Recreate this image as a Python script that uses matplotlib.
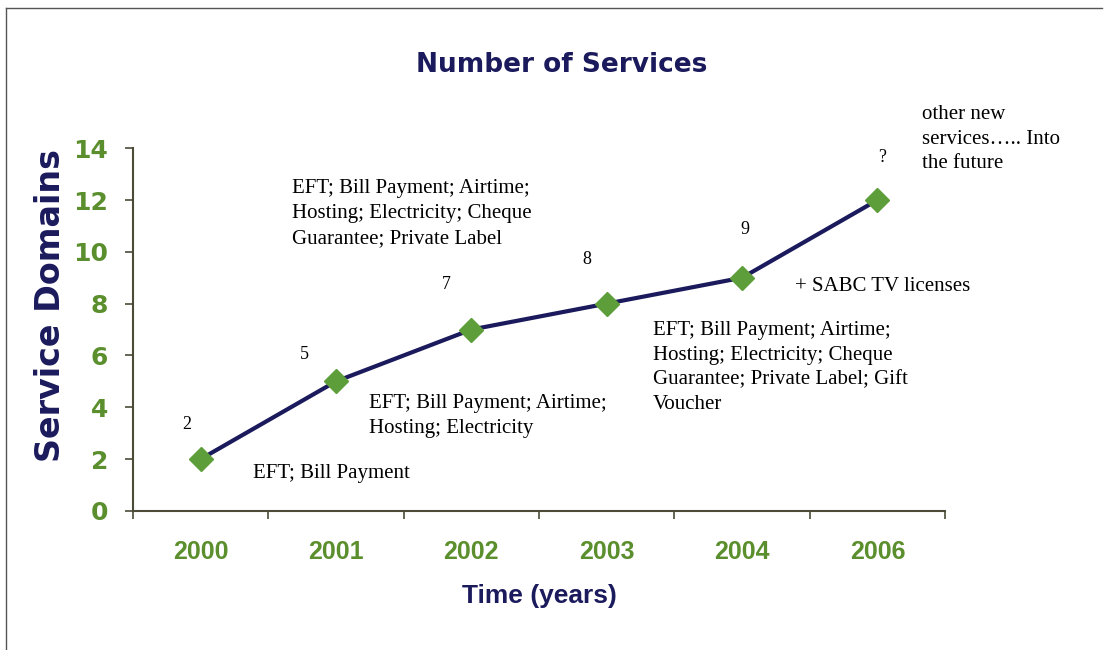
import matplotlib
matplotlib.use("Agg")
from matplotlib import pyplot as plt
from matplotlib.lines import Line2D

# colours
NAVY = "#1b1a5c"
GREEN = "#5b8f2e"
MARKER_GREEN = "#5e9e3a"
AXIS = "#4b4b38"

# data
years = ["2000", "2001", "2002", "2003", "2004", "2006"]
domains = [2, 5, 7, 8, 9, 12]
value_labels = ["2", "5", "7", "8", "9", "?"]

# service lists shown next to the points (year index, text)
service_notes = [
    (0, "EFT; Bill Payment"),
    (1, "EFT; Bill Payment; Airtime;\nHosting; Electricity"),
    (2, "EFT; Bill Payment; Airtime;\nHosting; Electricity; Cheque\nGuarantee; Private Label"),
    (3, "EFT; Bill Payment; Airtime;\nHosting; Electricity; Cheque\nGuarantee; Private Label; Gift\nVoucher"),
    (4, "+ SABC TV licenses"),
    (5, "other new\nservices\u2026.. Into\nthe future"),
]

# pixel offsets from each point: value label (centre) and note (left, middle)
value_offsets = [(-14, 35), (-32, 27), (-25, 45), (-20, 44), (3, 48), (5, 43)]
note_offsets = [(52, -14), (33, -35), (-179, 116), (46, -64), (53, -9), (45, 61)]

fig = plt.figure(figsize=(11.08, 6.5), dpi=100)
ax = fig.add_axes([0.12, 0.214, 0.733, 0.558])

x = list(range(len(years)))
ax.plot(x, domains, color=NAVY, lw=3, zorder=2)
ax.plot(x, domains, ls="none", marker="D", ms=12, mfc=MARKER_GREEN,
        mec=MARKER_GREEN, zorder=3)

serif = ["Liberation Serif", "DejaVu Serif"]
for i, (v, lab) in enumerate(zip(domains, value_labels)):
    dx, dy = value_offsets[i]
    ax.annotate(lab, (i, v), xytext=(dx, dy), textcoords="offset pixels",
                ha="center", va="center", fontsize=13, family=serif)

for i, txt in service_notes:
    dx, dy = note_offsets[i]
    ax.annotate(txt, (i, domains[i]), xytext=(dx, dy), textcoords="offset pixels",
                ha="left", va="center", fontsize=15, family=serif,
                linespacing=1.42)

ax.set_xlim(-0.5, len(years) - 0.5)
ax.set_ylim(0, 14)
ax.set_yticks(range(0, 15, 2))
ax.set_xticks([i - 0.5 for i in range(len(years) + 1)])
ax.set_xticklabels([])
ax.set_xticks(x, minor=True)
ax.set_xticklabels(years, minor=True)
ax.tick_params(axis="x", which="minor", length=0, pad=21)
ax.tick_params(axis="x", which="major", length=6, width=1.2, color=AXIS)
ax.tick_params(axis="y", length=6, width=1.2, color=AXIS, pad=12)

for lab in ax.get_yticklabels():
    lab.set_fontsize(18)
    lab.set_fontweight("bold")
    lab.set_color(GREEN)
for lab in ax.get_xticklabels(minor=True):
    lab.set_fontsize(18)
    lab.set_fontweight("bold")
    lab.set_color(GREEN)
    lab.set_family("Liberation Sans")

for s in ["top", "right"]:
    ax.spines[s].set_visible(False)
for s in ["left", "bottom"]:
    ax.spines[s].set_color(AXIS)
    ax.spines[s].set_linewidth(1.5)

ax.set_ylabel("Service Domains", fontsize=24, fontweight="bold", color=NAVY,
              va="center")
ax.yaxis.set_label_coords(-0.102, 0.565)
ax.set_xlabel("Time (years)", fontsize=19, fontweight="bold", color=NAVY,
              family="Liberation Sans", labelpad=14)
fig.text(0.507, 0.9, "Number of Services", ha="center", va="center",
         fontsize=19, fontweight="bold", color=NAVY)

# thin frame lines along the top and left edge
fig.add_artist(Line2D([0.005, 0.995], [0.988, 0.988], transform=fig.transFigure,
                      color="#555555", lw=1.0))
fig.add_artist(Line2D([0.005, 0.005], [0.0, 0.988], transform=fig.transFigure,
                      color="#555555", lw=1.0))

fig.savefig("out.png", dpi=100)
